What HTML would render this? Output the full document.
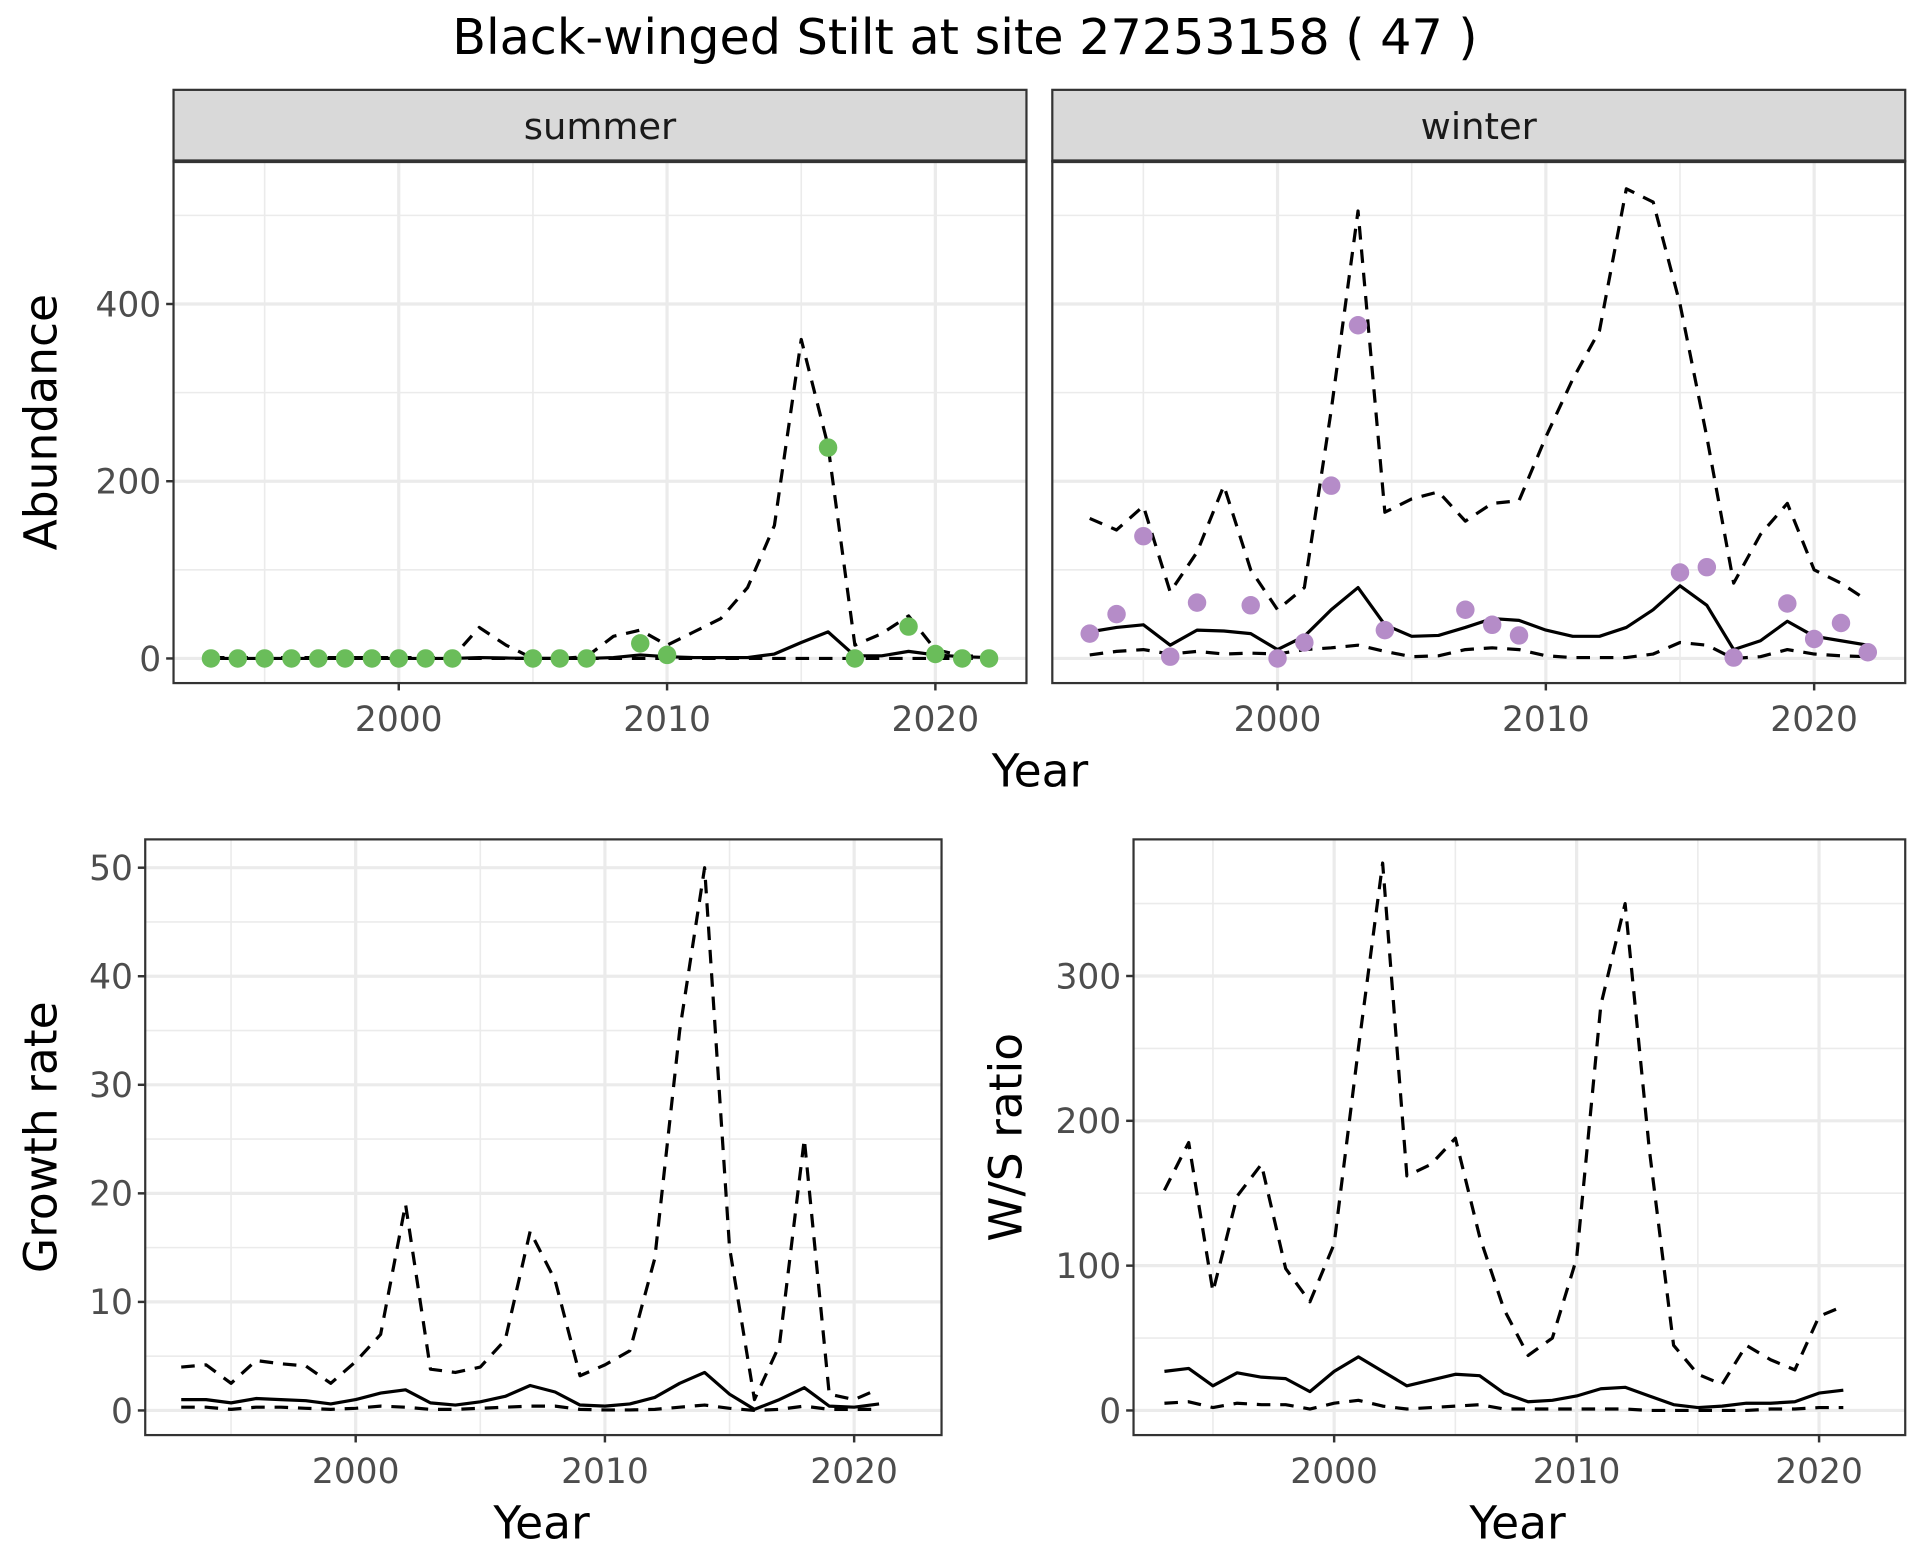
<!DOCTYPE html>
<html><head><meta charset="utf-8">
<style>
html,body{margin:0;padding:0;background:#fff;}
svg{display:block;font-family:"DejaVu Sans","Liberation Sans",sans-serif;}
</style></head>
<body>
<svg id="chart" width="1920" height="1560" viewBox="0 0 1560 1267.5" xmlns="http://www.w3.org/2000/svg">
<rect x="0" y="0" width="1560" height="1267.5" fill="#fff"/>
<text x="784" y="44" font-size="40" text-anchor="middle" fill="#000">Black-winged Stilt at site 27253158 ( 47 )</text>
<g id="g"></g>
</svg>
<script>
const yearsTop = [1993,1994,1995,1996,1997,1998,1999,2000,2001,2002,2003,2004,2005,2006,2007,2008,2009,2010,2011,2012,2013,2014,2015,2016,2017,2018,2019,2020,2021,2022];
const summerPtYears = [1993,1994,1995,1996,1997,1998,1999,2000,2001,2002,2005,2006,2007,2009,2010,2016,2017,2019,2020,2021,2022];
const summerPtVals = [0,0,0,0,0,0,0,0,0,0,0,0,0,17,4,238,0,36,5,0,0];
const summerMean = [0,0,0,0,0,0,0,0,0,0,1,0.5,0,0,0,1,4,2,1,1,1,5,18,30,3,3,8,4,2,1];
const summerUpper = [1,1,1,1,1,1,1,1,1,1,35,15,0,0,2,25,32,15,30,45,80,150,360,240,15,28,48,10,3,2];
const summerLower = [0,0,0,0,0,0,0,0,0,0,0,0,0,0,0,0,0,0,0,0,0,0,0,0,0,0,0,0,0,0];
const winterPtYears = [1993,1994,1995,1996,1997,1999,2000,2001,2002,2003,2004,2007,2008,2009,2015,2016,2017,2019,2020,2021,2022];
const winterPtVals = [28,50,138,2,63,60,0,18,195,376,32,55,38,26,97,103,1,62,22,40,7];
const winterMean = [30,35,38,15,32,31,28,10,25,55,80,38,25,26,35,45,43,32,25,25,35,55,82,60,10,20,42,25,20,15];
const winterUpper = [158,145,172,75,120,195,100,55,80,280,505,165,180,188,155,175,178,250,315,370,530,515,400,250,85,140,175,100,85,65];
const winterLower = [4,8,10,5,8,5,6,5,10,12,15,8,2,3,10,12,10,3,1,1,1,5,18,15,0,2,10,5,3,2];
const yearsBot = [1993,1994,1995,1996,1997,1998,1999,2000,2001,2002,2003,2004,2005,2006,2007,2008,2009,2010,2011,2012,2013,2014,2015,2016,2017,2018,2019,2020,2021];
const growthUpper = [4,4.2,2.5,4.6,4.3,4.1,2.5,4.5,7,19,3.8,3.5,4,6.5,16.5,12,3.2,4.2,5.5,14,35,50,15,1,6,25,1.5,1,2];
const growthMean = [1,1,0.7,1.1,1,0.9,0.6,1,1.6,1.9,0.7,0.5,0.8,1.3,2.3,1.7,0.5,0.4,0.6,1.2,2.5,3.5,1.5,0.1,1,2.1,0.4,0.3,0.6];
const growthLower = [0.3,0.3,0.1,0.3,0.3,0.2,0.1,0.2,0.4,0.3,0.1,0.1,0.2,0.3,0.4,0.4,0.1,0.05,0.05,0.1,0.3,0.5,0.2,0,0.1,0.4,0.1,0.1,0.1];
const wsUpper = [152,185,82,148,170,98,75,115,250,378,162,170,188,120,70,38,50,105,280,350,180,45,25,18,45,35,28,65,72];
const wsMean = [27,29,17,26,23,22,13,27,37,27,17,21,25,24,12,6,7,10,15,16,10,4,2,3,5,5,6,12,14];
const wsLower = [5,6,2,5,4,4,1,5,7,3,1,2,3,4,1,1,1,1,1,1,0,0,0,0,0,1,1,2,2];
const xTicks = [2000,2010,2020];
const xMinor = [1995,2005,2015];
const absTicks = [0,200,400];
const absMinor = [100,300,500];
const growthTicks = [0,10,20,30,40,50];
const growthMinor = [5,15,25,35,45];
const wsTicks = [0,100,200,300];
const wsMinor = [50,150,250,350];

const NS="http://www.w3.org/2000/svg";
const G=document.getElementById('g');
function el(tag,attrs,parent){const e=document.createElementNS(NS,tag);for(const k in attrs)e.setAttribute(k,attrs[k]);(parent||G).appendChild(e);return e;}
function lin(d0,d1,r0,r1){return v=>r0+(v-d0)*(r1-r0)/(d1-d0);}
const TF=28;

function panel(o){
  const g=el('g',{});
  
  
  const {x0,x1,y0,y1,sx,sy}=o;
  el('rect',{x:x0,y:y0,width:x1-x0,height:y1-y0,fill:'#fff'},g);
  o.yMinor.forEach(v=>{const y=sy(v);if(y>y0&&y<y1){const l=el('line',{x1:x0,x2:x1,y1:y,y2:y,stroke:'#ebebeb','stroke-width':1.3},g);}});
  xMinor.forEach(v=>{const x=sx(v);const l=el('line',{x1:x,x2:x,y1:y0,y2:y1,stroke:'#ebebeb','stroke-width':1.3},g);});
  o.yTicks.forEach(v=>{const y=sy(v);const l=el('line',{x1:x0,x2:x1,y1:y,y2:y,stroke:'#ebebeb','stroke-width':2.6},g);});
  xTicks.forEach(v=>{const x=sx(v);const l=el('line',{x1:x,x2:x,y1:y0,y2:y1,stroke:'#ebebeb','stroke-width':2.6},g);});
  const line=(xs,vs,dash,nm)=>{
    const p=el('polyline',{points:xs.map((x,i)=>sx(x)+','+sy(vs[i])).join(' '),fill:'none',stroke:'#000','stroke-width':2.6,'stroke-dasharray':dash||'none','stroke-linejoin':'round'},g);
    
    
  };
  line(o.years,o.lower,'11,8',o.name+'-lower-line');
  line(o.years,o.upper,'11,8',o.name+'-upper-line');
  line(o.years,o.mean,null,o.name+'-mean-line');
  if(o.pts){o.pts[0].forEach((yr,i)=>{const c=el('circle',{cx:sx(yr),cy:sy(o.pts[1][i]),r:7.5,fill:o.color},g);});}
  el('rect',{x:x0,y:y0,width:x1-x0,height:y1-y0,fill:'none',stroke:'#333','stroke-width':1.8},g);
  xTicks.forEach(v=>{const x=sx(v);el('line',{x1:x,x2:x,y1:y1,y2:y1+6,stroke:'#333','stroke-width':2},g);
    const t=el('text',{x:x,y:y1+39,'font-size':TF,'text-anchor':'middle',fill:'#4d4d4d'},g);t.textContent=v;});
  if(o.yLabels){o.yTicks.forEach(v=>{const y=sy(v);el('line',{x1:x0-6,x2:x0,y1:y,y2:y,stroke:'#333','stroke-width':2},g);
    const t=el('text',{x:x0-10,y:y+10,'font-size':TF,'text-anchor':'end',fill:'#4d4d4d'},g);t.textContent=v;});}
  if(o.strip){const s=el('rect',{x:x0,y:73,width:x1-x0,height:y0-73,fill:'#d9d9d9',stroke:'#333','stroke-width':1.8},g);
    el('line',{x1:x0,x2:x1,y1:y0,y2:y0,stroke:'#333','stroke-width':3},g);
    const t=el('text',{x:(x0+x1)/2,y:113,'font-size':30,'text-anchor':'middle',fill:'#1a1a1a'},g);t.textContent=o.strip;}
}
function title(x,y,txt,rot,nm){const t=el('text',{x:x,y:y,'font-size':37,'text-anchor':'middle',fill:'#000',transform:rot?`rotate(-90 ${x} ${y})`:''});t.textContent=txt;}

const syTop=lin(0,400,535,247);
panel({name:'summer-panel',x0:141,x1:834,y0:131,y1:555,sx:lin(2000,2020,324,760),sy:syTop,years:yearsTop,upper:summerUpper,mean:summerMean,lower:summerLower,pts:[summerPtYears,summerPtVals],color:'#6abd5a',yTicks:absTicks,yMinor:absMinor,yLabels:true,strip:'summer'});
panel({name:'winter-panel',x0:855,x1:1548,y0:131,y1:555,sx:lin(2000,2020,1038,1474),sy:syTop,years:yearsTop,upper:winterUpper,mean:winterMean,lower:winterLower,pts:[winterPtYears,winterPtVals],color:'#b58cc8',yTicks:absTicks,yMinor:absMinor,yLabels:false,strip:'winter'});
panel({name:'growth-panel',x0:118,x1:765,y0:682,y1:1166,sx:lin(2000,2020,289,694),sy:lin(0,50,1146,705),years:yearsBot,upper:growthUpper,mean:growthMean,lower:growthLower,yTicks:growthTicks,yMinor:growthMinor,yLabels:true});
panel({name:'ws-ratio-panel',x0:921,x1:1548,y0:682,y1:1166,sx:lin(2000,2020,1084,1478),sy:lin(0,300,1146,793),years:yearsBot,upper:wsUpper,mean:wsMean,lower:wsLower,yTicks:wsTicks,yMinor:wsMinor,yLabels:true});
title(845,639,'Year',false,'top-x-axis-title');
title(46,343,'Abundance',true,'abundance-axis-title');
title(440,1250,'Year',false,'growth-x-axis-title');
title(46,924,'Growth rate',true,'growth-axis-title');
title(830,924,'W/S ratio',true,'ws-axis-title');
title(1233,1250,'Year',false,'ws-x-axis-title');
</script>
</body></html>
